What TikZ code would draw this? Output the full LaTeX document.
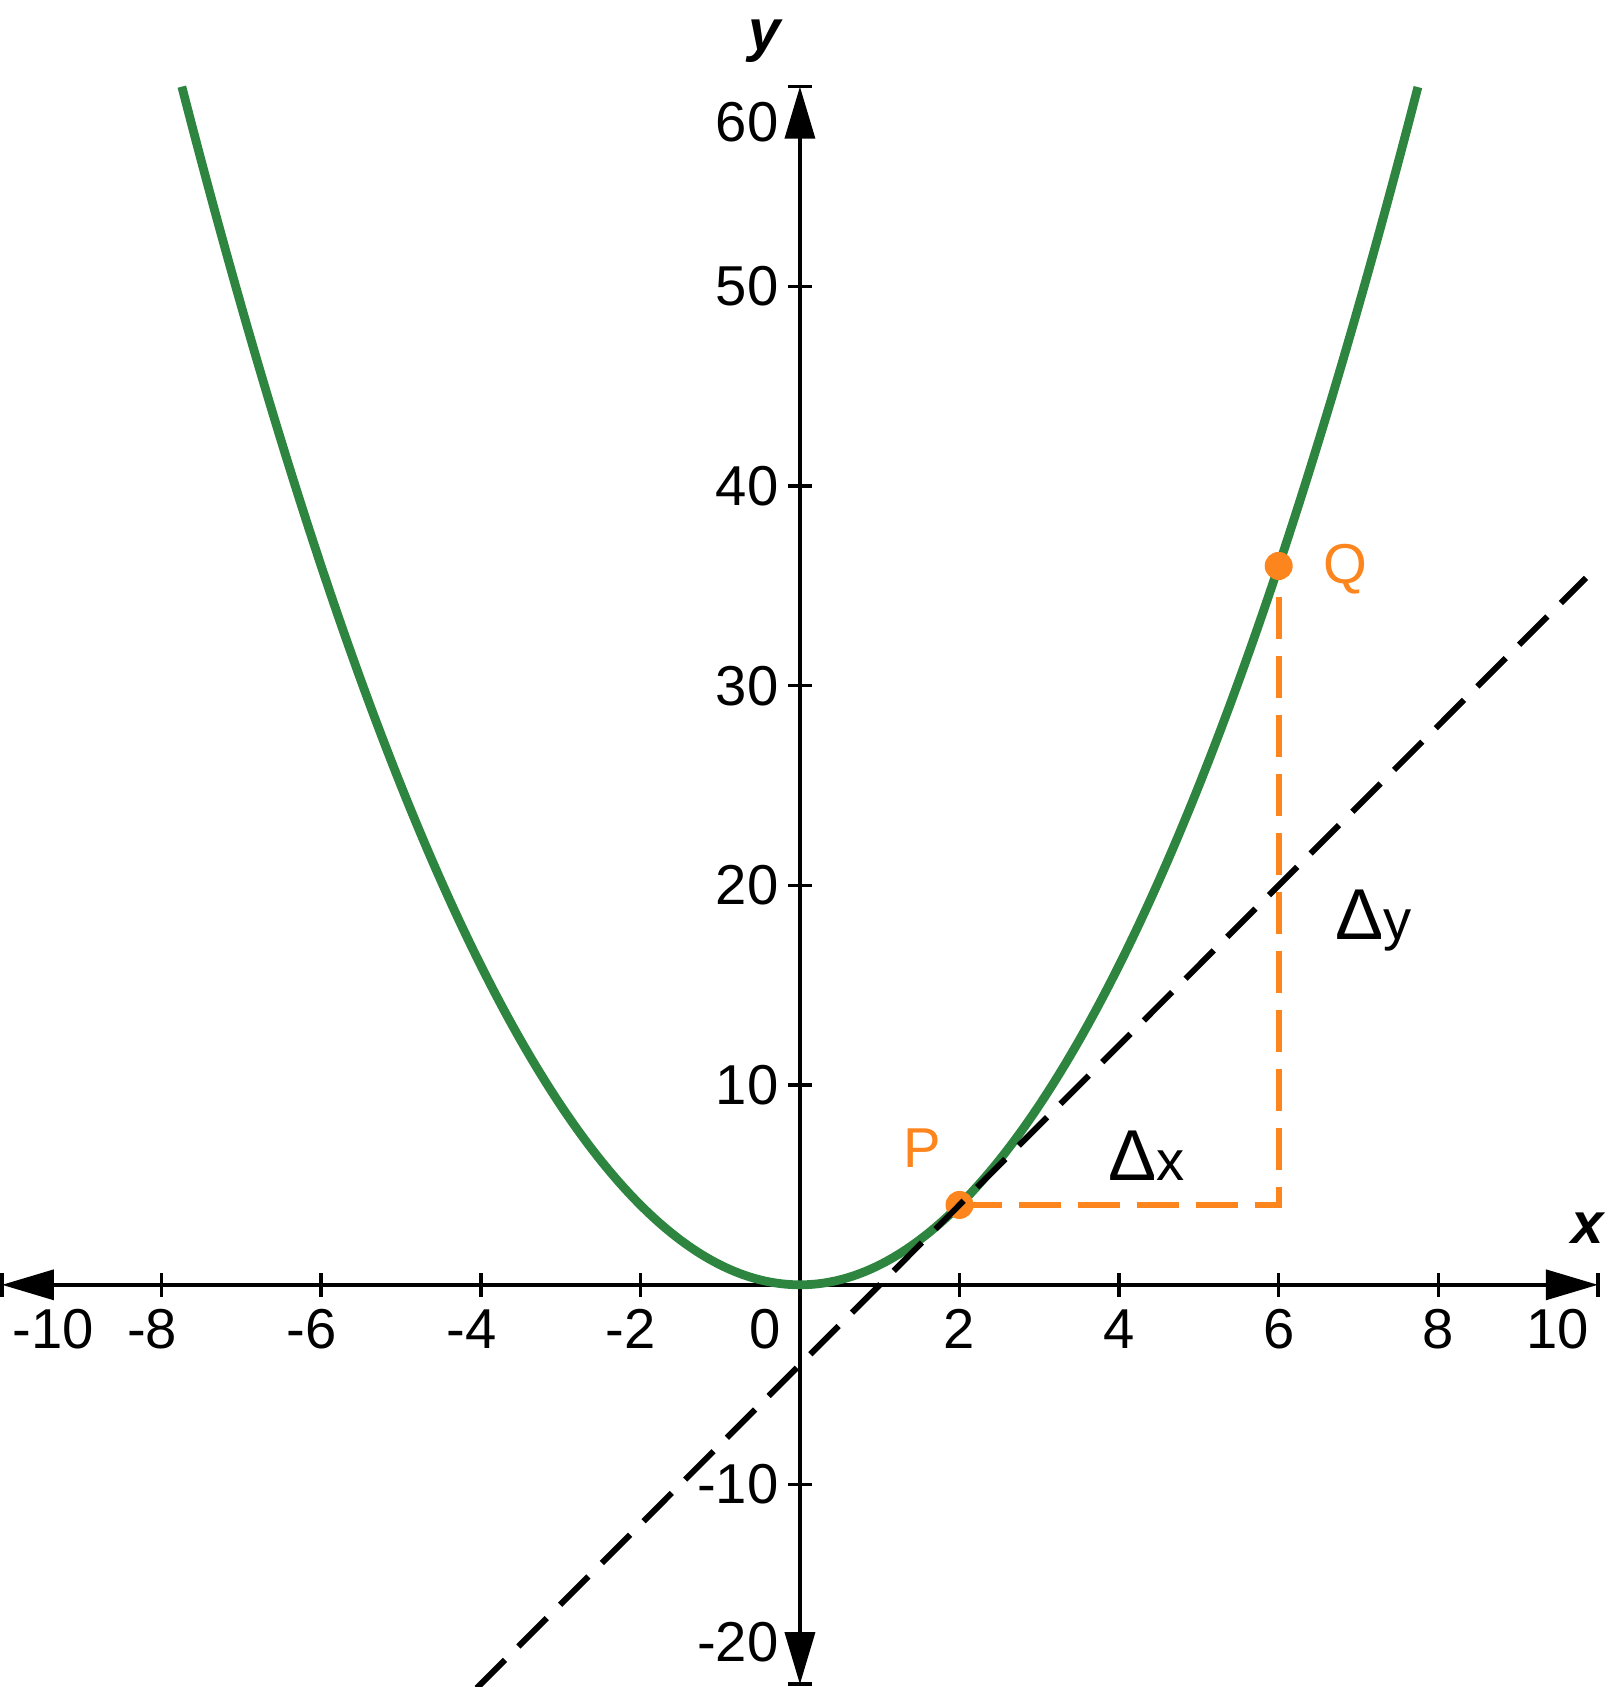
\documentclass[tikz,border=0pt]{standalone}
\usepackage{fontspec}
\setmainfont{Liberation Sans}
\usetikzlibrary{arrows.meta}
\definecolor{curvegreen}{RGB}{46,133,64}
\definecolor{ptorange}{RGB}{252,133,30}

\begin{document}
\begin{tikzpicture}[x=0.798cm, y=0.1997cm,
  every node/.style={font=\fontsize{16}{19}\selectfont, inner sep=0pt},
  axis/.style={line width=1pt, {Triangle[length=5.2mm,width=3mm]}-{Triangle[length=5.2mm,width=3mm]}},
  tickmark/.style={line width=1pt},
  curve/.style={curvegreen, line width=2.5pt},
  tangent/.style={black, line width=1.7pt, dash pattern=on 0.4cm off 0.19cm},
  stepline/.style={ptorange, line width=1.7pt, dash pattern=on 0.42cm off 0.17cm},
  axislabel/.style={font=\fontsize{16.5}{19}\selectfont\bfseries\itshape}]
\useasboundingbox (-10.025,-20.14) rectangle (10.125,64.34);

\coordinate (xmin) at (-10,0);
\coordinate (xmax) at (10,0);
\coordinate (ymin) at (0,-20);
\coordinate (ymax) at (0,60);
\coordinate (P) at (2,4);
\coordinate (R) at (6,4);
\coordinate (Q) at (6,36);
\coordinate (tlow) at (-4.05,-20.2);
\coordinate (thigh) at (9.85,35.4);

\draw[axis] (xmin) -- (xmax);
\draw[axis] (ymin) -- (ymax);
\draw[tickmark] (xmin) +(0pt,-3.4pt) -- +(0pt,3.4pt);
\draw[tickmark] (xmax) +(0pt,-3.4pt) -- +(0pt,3.4pt);
\draw[tickmark] (ymin) +(-3.4pt,0pt) -- +(3.4pt,0pt);
\draw[tickmark] (ymax) +(-3.4pt,0pt) -- +(3.4pt,0pt);
\foreach \t in {-8,-6,-4,-2,2,4,6,8}
  \draw[tickmark] (\t,0) +(0pt,-3.4pt) -- +(0pt,3.4pt);
\foreach \t in {-10,10,20,30,40,50}
  \draw[tickmark] (0,\t) +(-3.4pt,0pt) -- +(3.4pt,0pt);

\node[anchor=north] (xm10) at (-9.24,-1.2) {\llap{-}10};
\node[anchor=north] (xm8) at (-8,-1.2) {\llap{-}8};
\node[anchor=north] (xm6) at (-6,-1.2) {\llap{-}6};
\node[anchor=north] (xm4) at (-4,-1.2) {\llap{-}4};
\node[anchor=north] (xm2) at (-2,-1.2) {\llap{-}2};
\node[anchor=north] (x0) at (-0.43,-1.2) {0};
\node[anchor=north] (x2) at (2,-1.2) {2};
\node[anchor=north] (x4) at (4,-1.2) {4};
\node[anchor=north] (x6) at (6,-1.2) {6};
\node[anchor=north] (x8) at (8,-1.2) {8};
\node[anchor=north] (x10) at (9.5,-1.2) {10};

\node[anchor=east] (y60) at (-0.26,58.24) {60};
\node[anchor=east] (y50) at (-0.26,50) {50};
\node[anchor=east] (y40) at (-0.26,40) {40};
\node[anchor=east] (y30) at (-0.26,30) {30};
\node[anchor=east] (y20) at (-0.26,20) {20};
\node[anchor=east] (y10) at (-0.26,10) {10};
\node[anchor=east] (ym10) at (-0.26,-10) {-10};
\node[anchor=east] (ym20) at (-0.26,-17.89) {-20};

\node[axislabel, anchor=base] (xlabel) at (9.87,2.09) {x};
\node[axislabel, anchor=base] (ylabel) at (-0.44,61.8) {y};

\draw[curve] plot[domain=-7.746:7.746, samples=120, smooth] (\x,{\x*\x});
\draw[stepline] (P) -- (R) -- (Q);
\fill[ptorange] (P) circle (0.14cm);
\fill[ptorange] (Q) circle (0.14cm);
\draw[tangent] (tlow) -- (thigh);

\node[anchor=base, text=ptorange] (plabel) at (1.53,5.89) {P};
\node[anchor=base, text=ptorange] (qlabel) at (6.83,35.14) {Q};
\node[anchor=base] (dx) at (4.34,5.24) {{\fontsize{20.5}{21}\selectfont Δ}x};
\node[anchor=base] (dy) at (7.19,17.27) {{\fontsize{20.5}{21}\selectfont Δ}y};
\end{tikzpicture}
\end{document}
